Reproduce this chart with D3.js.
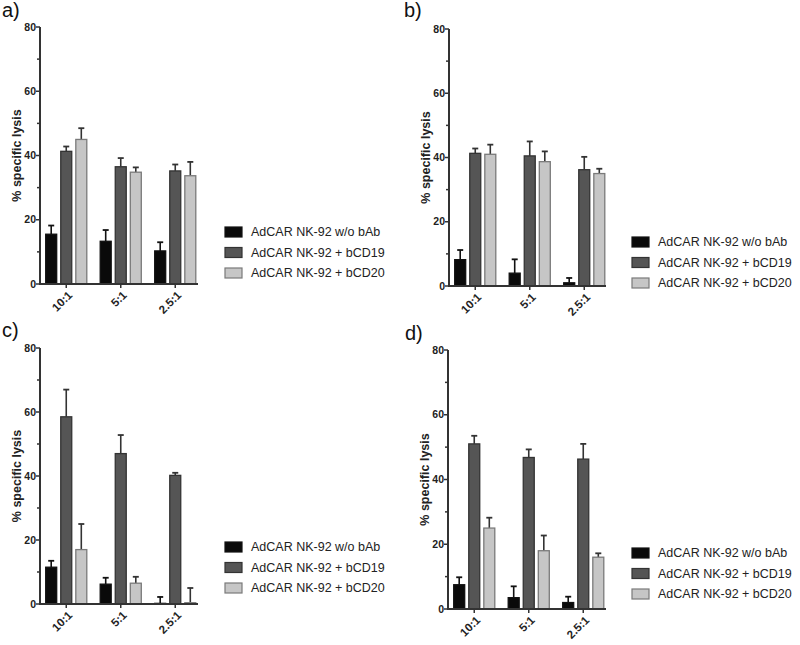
<!DOCTYPE html>
<html>
<head>
<meta charset="utf-8">
<script src="https://cdn.jsdelivr.net/npm/d3@7"></script>
<style>
  html, body { margin: 0; padding: 0; background: #fff; }
  svg { display: block; font-family: "Liberation Sans", Arial, sans-serif; }
</style>
</head>
<body>
<svg id="chart" width="800" height="645"></svg>
<script>
// ---- data ----
const categories = ["10:1", "5:1", "2.5:1"];
const seriesNames = ["AdCAR NK-92 w/o bAb", "AdCAR NK-92 + bCD19", "AdCAR NK-92 + bCD20"];
const yTicks = [0, 20, 40, 60, 80];
const yMinorTicks = [10, 30, 50, 70];
const panelLabels = ["a)", "b)", "c)", "d)"];

// values per panel: [series][category]
const aValues = [[15.5, 13.3, 10.3], [41.3, 36.5, 35.2], [45.0, 34.8, 33.7]];
const aErrors = [[2.7, 3.5, 2.7], [1.5, 2.7, 2.0], [3.5, 1.5, 4.3]];
const bValues = [[8.2, 4.0, 1.0], [41.3, 40.5, 36.2], [41.0, 38.7, 35.0]];
const bErrors = [[3.0, 4.3, 1.5], [1.5, 4.5, 4.0], [3.0, 3.2, 1.5]];
const cValues = [[11.5, 6.2, 0.2], [58.5, 47.0, 40.2], [17.0, 6.5, 0.4]];
const cErrors = [[2.0, 2.0, 2.0], [8.5, 5.8, 0.8], [8.0, 2.0, 4.6]];
const dValues = [[7.5, 3.5, 2.0], [51.0, 46.8, 46.3], [25.0, 18.0, 16.0]];
const dErrors = [[2.3, 3.5, 1.8], [2.5, 2.5, 4.7], [3.2, 4.7, 1.2]];

// ---- styling / layout ----
const fills = ["#0a0a0a", "#555555", "#c6c6c6"];
const strokes = ["#111111", "#333333", "#7a7a7a"];
const axisColor = "#333";

const panels = [
  { label: panelLabels[0], values: aValues, errors: aErrors, ax: 40,  y0: 284, y80: 27,  xEnd: 198, lx: 2,   ly: 17,  legX: 225, legY: 232 },
  { label: panelLabels[1], values: bValues, errors: bErrors, ax: 449, y0: 286, y80: 29,  xEnd: 606, lx: 404, ly: 17,  legX: 632, legY: 242 },
  { label: panelLabels[2], values: cValues, errors: cErrors, ax: 40,  y0: 604, y80: 348, xEnd: 198, lx: 2,   ly: 337, legX: 225, legY: 547 },
  { label: panelLabels[3], values: dValues, errors: dErrors, ax: 448, y0: 609, y80: 350, xEnd: 606, lx: 405, ly: 340, legX: 632, legY: 553 }
];

const svg = d3.select("#chart");

panels.forEach(p => {
  const g = svg.append("g");
  const y = d3.scaleLinear().domain([0, 80]).range([p.y0, p.y80]);
  const x0 = d3.scaleBand().domain(categories).range([p.ax - 1, p.ax + 162.5]).paddingInner(0).paddingOuter(0);
  const x1 = d3.scaleBand().domain(d3.range(seriesNames.length)).range([-22.5, 22.5]).paddingInner(0.27).paddingOuter(0.13);

  // panel label
  g.append("text").attr("x", p.lx).attr("y", p.ly)
    .attr("font-size", 20).attr("fill", "#111").text(p.label);

  // bars
  const groups = g.selectAll("g.grp").data(categories).join("g")
    .attr("transform", c => `translate(${x0(c) + x0.bandwidth() / 2},0)`);

  groups.each(function (c, ci) {
    const gg = d3.select(this);
    seriesNames.forEach((s, si) => {
      const v = p.values[si][ci];
      const e = p.errors[si][ci];
      const bx = x1(si);
      const bw = x1.bandwidth();
      const cx = bx + bw / 2;
      // error bar (upper)
      gg.append("line").attr("x1", cx).attr("x2", cx)
        .attr("y1", y(v)).attr("y2", y(v + e))
        .attr("stroke", si === 2 ? "#333" : strokes[si]).attr("stroke-width", 1.6);
      gg.append("line").attr("x1", cx - 3).attr("x2", cx + 3)
        .attr("y1", y(v + e)).attr("y2", y(v + e))
        .attr("stroke", si === 2 ? "#333" : strokes[si]).attr("stroke-width", 1.8);
      gg.append("rect").attr("x", bx).attr("width", bw)
        .attr("y", y(v)).attr("height", Math.max(0, y(0) - y(v)))
        .attr("fill", fills[si]).attr("stroke", strokes[si]).attr("stroke-width", 1.3);
    });
  });

  // y axis
  g.append("line").attr("x1", p.ax).attr("x2", p.ax).attr("y1", y(0)).attr("y2", y(80))
    .attr("stroke", axisColor).attr("stroke-width", 2);
  yTicks.forEach(t => {
    g.append("line").attr("x1", p.ax - 4).attr("x2", p.ax).attr("y1", y(t)).attr("y2", y(t))
      .attr("stroke", axisColor).attr("stroke-width", 1.5);
    g.append("text").attr("x", p.ax - 4).attr("y", y(t)).attr("dy", "0.35em")
      .attr("text-anchor", "end").attr("font-size", 10.5).attr("font-weight", "bold")
      .attr("fill", "#222").text(t);
  });
  yMinorTicks.forEach(t => {
    g.append("line").attr("x1", p.ax - 3).attr("x2", p.ax).attr("y1", y(t)).attr("y2", y(t))
      .attr("stroke", axisColor).attr("stroke-width", 1.5);
  });
  // y label
  g.append("text")
    .attr("transform", `translate(${p.ax - 19},${(y(0) + y(80)) / 2}) rotate(-90)`)
    .attr("text-anchor", "middle").attr("font-size", 12.5).attr("font-weight", "bold")
    .attr("fill", "#222").text("% specific lysis");

  // x axis
  g.append("line").attr("x1", p.ax - 1).attr("x2", p.xEnd).attr("y1", y(0)).attr("y2", y(0))
    .attr("stroke", axisColor).attr("stroke-width", 2);
  categories.forEach(c => {
    const cx = x0(c) + x0.bandwidth() / 2;
    g.append("line").attr("x1", cx).attr("x2", cx).attr("y1", y(0)).attr("y2", y(0) + 4)
      .attr("stroke", axisColor).attr("stroke-width", 1.5);
    g.append("text")
      .attr("transform", `translate(${cx + 4},${y(0) + 9}) rotate(-45)`)
      .attr("text-anchor", "end").attr("dy", "0.35em")
      .attr("font-size", 11.5).attr("font-weight", "bold").attr("fill", "#222").text(c);
  });

  // legend
  seriesNames.forEach((s, si) => {
    const ly = p.legY + si * 20.5;
    g.append("rect").attr("x", p.legX).attr("y", ly - 5).attr("width", 17).attr("height", 10)
      .attr("fill", fills[si]).attr("stroke", strokes[si]).attr("stroke-width", 1.2);
    g.append("text").attr("x", p.legX + 26).attr("y", ly).attr("dy", "0.35em")
      .attr("font-size", 12.5).attr("fill", "#222").text(s);
  });
});
</script>
</body>
</html>
